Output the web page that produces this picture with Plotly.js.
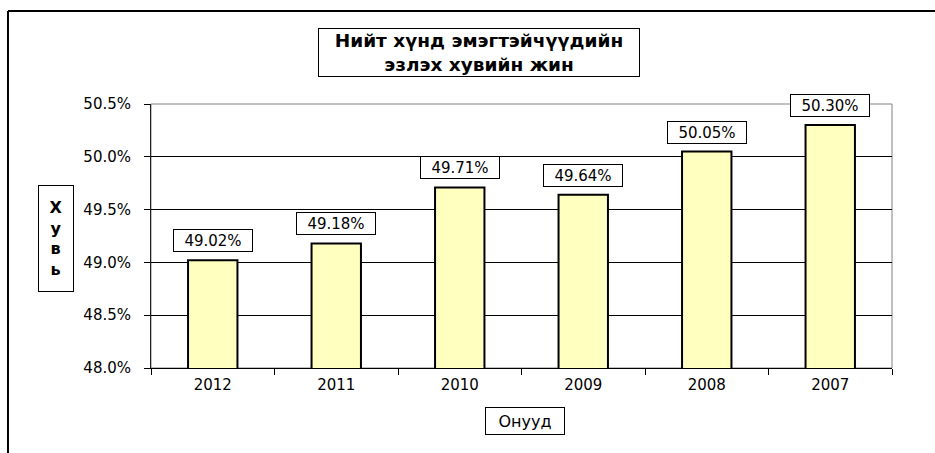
<!DOCTYPE html>
<html>
<head>
<meta charset="utf-8">
<script src="https://cdn.plot.ly/plotly-3.0.1.min.js"></script>
<style>
html,body{margin:0;padding:0;background:#fff;}
#chart{width:935px;height:453px;}
</style>
</head>
<body>
<div id="chart"></div>
<div id="err"></div>
<script>
const years = ["2012", "2011", "2010", "2009", "2008", "2007"];
const shares = [49.02, 49.18, 49.71, 49.64, 50.05, 50.30];
const valueLabels = ["49.02%", "49.18%", "49.71%", "49.64%", "50.05%", "50.30%"];
const yTickVals = [48, 48.5, 49, 49.5, 50, 50.5];
const yTickText = ["48.0%", "48.5%", "49.0%", "49.5%", "50.0%", "50.5%"];
const titleText = "<b>Нийт хүнд эмэгтэйчүүдийн<br>эзлэх хувийн жин</b>";
const yTitleText = "<b>Х<br>у<br>в<br>ь</b>";
const xTitleText = "Онууд";

const FONT = "DejaVu Sans, Liberation Sans, Arial, sans-serif";

const trace = {
  type: "bar",
  x: years,
  y: shares,
  width: 0.4,
  marker: {color: "#FFFFC0", line: {color: "#000", width: 2}},
  hoverinfo: "skip"
};

const annotations = years.map((yr, i) => ({
  x: i, y: shares[i], xref: "x", yref: "y",
  text: valueLabels[i], showarrow: false,
  yanchor: "bottom", yshift: 8,
  width: 76, height: 19,
  bgcolor: "#fff", bordercolor: "#000", borderwidth: 1, borderpad: 1,
  font: {family: FONT, size: 15, color: "#000"}
}));

annotations.push({
  xref: "paper", yref: "paper", x: 0.4426, y: 1.195,
  xanchor: "center", yanchor: "middle",
  text: titleText, showarrow: false, align: "center",
  width: 318, height: 45,
  bgcolor: "#fff", bordercolor: "#000", borderwidth: 1, borderpad: 1,
  font: {family: FONT, size: 18.5, color: "#000"}
});
annotations.push({
  xref: "paper", yref: "paper", x: -0.128, y: 0.4905,
  xanchor: "center", yanchor: "middle",
  text: yTitleText, showarrow: false, align: "center",
  width: 32, height: 103,
  bgcolor: "#fff", bordercolor: "#000", borderwidth: 1, borderpad: 1,
  font: {family: FONT, size: 16, color: "#000"}
});
annotations.push({
  xref: "paper", yref: "paper", x: 0.5045, y: -0.2,
  xanchor: "center", yanchor: "middle",
  text: xTitleText, showarrow: false, align: "center",
  width: 76, height: 24,
  bgcolor: "#fff", bordercolor: "#000", borderwidth: 1, borderpad: 1,
  font: {family: FONT, size: 16, color: "#000"}
});

const layout = {
  width: 935, height: 453,
  margin: {l: 151, r: 43, t: 104, b: 85},
  paper_bgcolor: "#fff", plot_bgcolor: "#fff",
  showlegend: false,
  font: {family: FONT, size: 15, color: "#000"},
  xaxis: {
    type: "category",
    range: [-0.5, 5.5],
    showline: true, linecolor: "#000", linewidth: 1,
    ticks: "outside", tickson: "boundaries", ticklen: 6, tickcolor: "#000",
    ticklabelstandoff: 3,
    showgrid: false, zeroline: false,
    tickfont: {family: FONT, size: 15, color: "#000"}
  },
  yaxis: {
    range: [48, 50.5],
    tickmode: "array",
    tickvals: yTickVals,
    ticktext: yTickText,
    showline: true, linecolor: "#222", linewidth: 1,
    ticks: "outside", ticklen: 6, tickcolor: "#000",
    ticklabelstandoff: 10,
    showgrid: true, gridcolor: "#000", gridwidth: 1,
    zeroline: false,
    tickfont: {family: FONT, size: 15, color: "#000"}
  },
  shapes: [
    {type: "rect", xref: "paper", yref: "paper", x0: 0, x1: 1, y0: 0, y1: 1,
     line: {color: "#808080", width: 1}, layer: "below"},
    {type: "line", xref: "paper", yref: "paper", x0: -0.193, x1: -0.193, y0: -0.35, y1: 1.3523,
     line: {color: "#000", width: 2}},
    {type: "line", xref: "paper", yref: "paper", x0: -0.193, x1: 1.07, y0: 1.3523, y1: 1.3523,
     line: {color: "#000", width: 2}}
  ],
  annotations: annotations
};

try {
  Plotly.newPlot("chart", [trace], layout, {displayModeBar: false, staticPlot: true});
} catch (e) {
  document.getElementById("err").textContent = String(e);
}
</script>
</body>
</html>
